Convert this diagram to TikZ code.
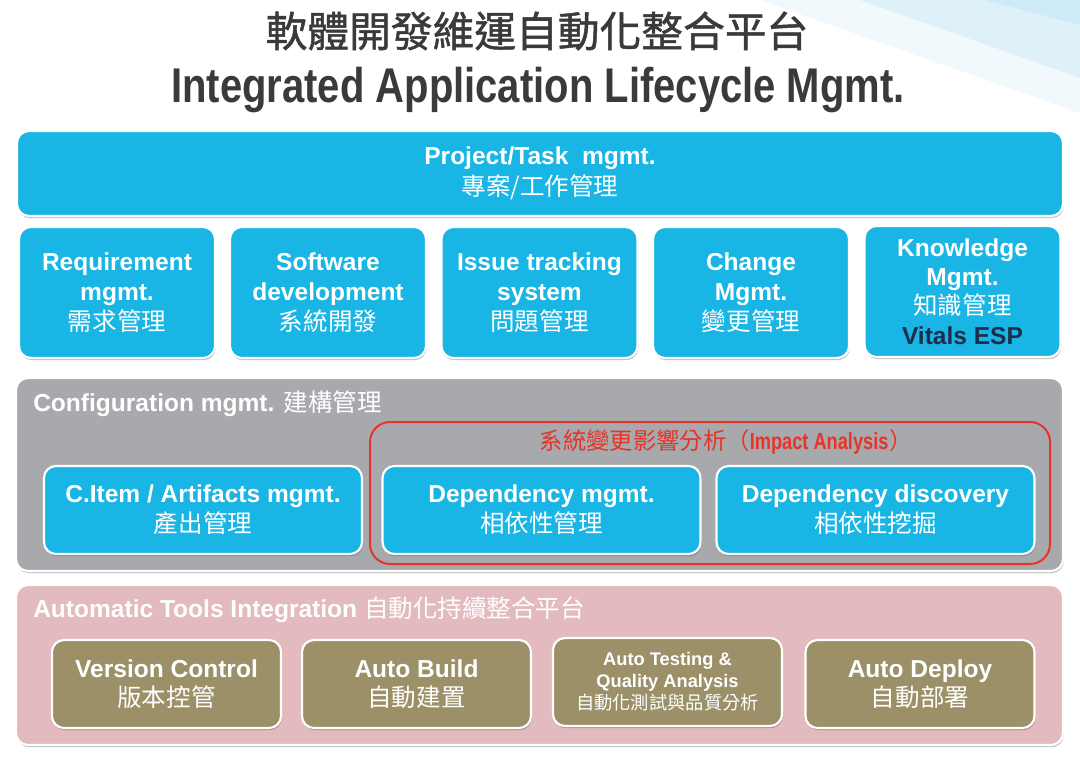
\documentclass[tikz,border=0pt]{standalone}
\usepackage{fontspec}
\setmainfont{Liberation Sans}
\newfontfamily\cjk{Noto Sans CJK TC}
\newfontfamily\cjkb[FakeBold=1.2]{Noto Sans CJK TC}
\usetikzlibrary{shadows}
\definecolor{cblue}{RGB}{25,181,228}
\definecolor{cgray}{RGB}{167,169,172}
\definecolor{cpink}{RGB}{227,186,189}
\definecolor{ctan}{RGB}{155,144,104}
\definecolor{cred}{RGB}{232,52,40}
\definecolor{ctitle}{RGB}{58,58,58}
\definecolor{cnavy}{RGB}{30,45,75}
\definecolor{band1}{RGB}{241,249,253}
\definecolor{band2}{RGB}{222,241,249}
\definecolor{band3}{RGB}{206,234,246}
\newcommand\zh[1]{{\cjk\mdseries #1}}
\tikzset{
  shad/.style={drop shadow={shadow xshift=0.6pt, shadow yshift=-1.6pt, opacity=0.35, fill=black!70}},
  panel/.style={rounded corners=9pt, draw=white, line width=1.6pt, shad, inner sep=0pt},
  bluebox/.style={panel, fill=cblue, text=white, align=center,
    font=\bfseries\fontsize{18.4}{22.5}\selectfont},
  tanbox/.style={panel, fill=ctan, text=white, align=center,
    font=\bfseries\fontsize{18.4}{22}\selectfont, minimum width=171.75pt, minimum height=66pt},
  rowbox/.style={bluebox, minimum width=147pt, minimum height=98.25pt},
  cfgbox/.style={bluebox, minimum width=238.5pt, minimum height=66pt},
  paneltitle/.style={anchor=west, text=white, inner sep=0pt, font=\bfseries\fontsize{18.4}{22}\selectfont},
}
\begin{document}
\begin{tikzpicture}[x=0.75pt,y=-0.75pt]
\useasboundingbox (0,0) rectangle (1080,763);
\fill[white] (0,0) rectangle (1080,763);
% background bands
\fill[band1] (760,0) -- (1080,0) -- (1080,113) -- cycle;
\fill[band2] (860,0) -- (1080,0) -- (1080,78) -- cycle;
\fill[band3] (985,0) -- (1080,0) -- (1080,25) -- cycle;
% titles
\node[text=ctitle, inner sep=0pt] (t1) at (537,31)
  {\resizebox{407pt}{!}{\cjkb 軟體開發維運自動化整合平台}};
\node[text=ctitle, inner sep=0pt, anchor=base] (t2) at (538,103)
  {\resizebox{550pt}{26.5pt}{\bfseries Integrated Application Lifecycle Mgmt.}};
% top box
\node[bluebox, minimum width=784.5pt, minimum height=63.75pt,
  font=\bfseries\fontsize{18.4}{23.5}\selectfont] (proj) at (540,173.5)
  {Project/Task\ \ mgmt.\\ \zh{專案/工作管理}};
% row 2
\node[rowbox] (req) at (117,292.5) {Requirement\\ mgmt.\\ \zh{需求管理}};
\node[rowbox] (dev) at (328,292.5) {Software\\ development\\ \zh{系統開發}};
\node[rowbox] (iss) at (539.5,292.5) {Issue tracking\\ system\\ \zh{問題管理}};
\node[rowbox] (chg) at (751,292.5) {Change\\ Mgmt.\\ \zh{變更管理}};
\node[rowbox, font=\bfseries\fontsize{18.4}{22}\selectfont] (know) at (962.5,291.5)
  {Knowledge\\ Mgmt.\\ \zh{知識管理}\\ \textcolor{cnavy}{Vitals ESP}};
% configuration panel
\node[panel, fill=cgray, minimum width=785.25pt, minimum height=144.75pt] (cfg) at (539.5,474.5) {};
\node[paneltitle] (cfgt) at (33,404) {Configuration mgmt. \zh{建構管理}};
\node[draw=cred, line width=1.5pt, rounded corners=15pt, minimum width=510pt, minimum height=106.5pt] (imp) at (710,493) {};
\node[text=cred, inner sep=0pt] (impt) at (726.5,442)
  {\fontsize{17.5}{20}\selectfont\zh{系統變更影響分析（}\scalebox{0.78}[1]{\bfseries Impact Analysis}\hspace{1pt}\zh{）}};
\node[cfgbox] (citem) at (203,510) {C.Item / Artifacts mgmt.\\ \zh{產出管理}};
\node[cfgbox] (depm) at (541.5,510) {Dependency mgmt.\\ \zh{相依性管理}};
\node[cfgbox] (depd) at (875.5,510) {Dependency discovery\\ \zh{相依性挖掘}};
% automatic tools panel
\node[panel, fill=cpink, minimum width=785.25pt, minimum height=120pt] (auto) at (539.5,665) {};
\node[paneltitle] (autot) at (33,610) {Automatic Tools Integration \zh{自動化持續整合平台}};
\node[tanbox] (ver) at (166.5,684) {Version Control\\ \zh{版本控管}};
\node[tanbox] (bld) at (416.5,684) {Auto Build\\ \zh{自動建置}};
\node[tanbox, font=\bfseries\fontsize{13.7}{16.5}\selectfont] (tst) at (667.5,682)
  {Auto Testing \&\\ Quality Analysis\\ \zh{自動化測試與品質分析}};
\node[tanbox] (dep) at (920,684) {Auto Deploy\\ \zh{自動部署}};
\end{tikzpicture}
\end{document}
